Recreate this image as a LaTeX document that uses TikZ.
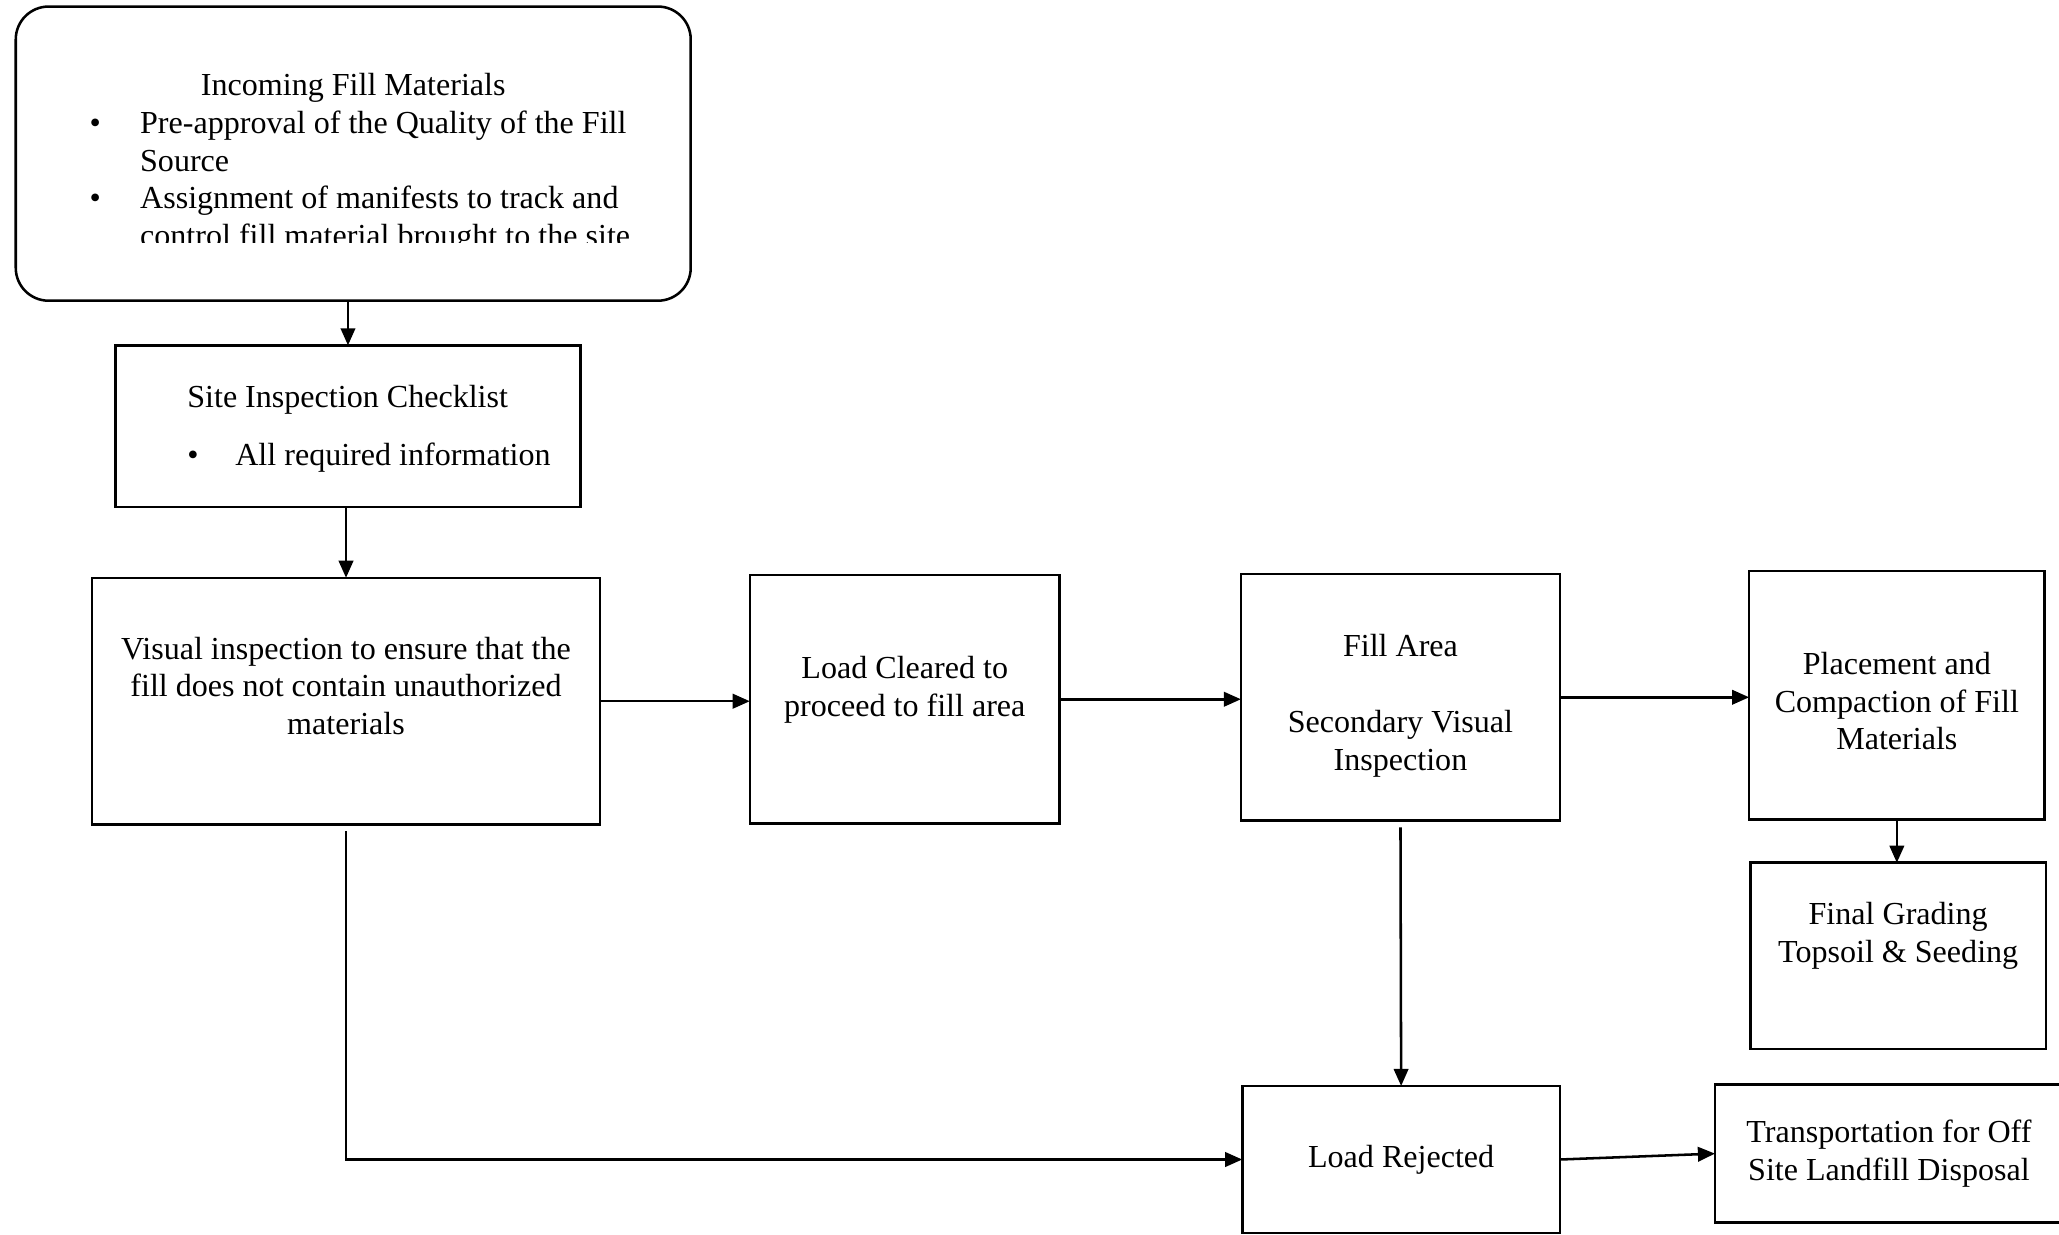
\documentclass[tikz,border=0pt]{standalone}
\usepackage{fontspec}
\setmainfont{Liberation Serif}
\usetikzlibrary{calc,arrows.meta}
\newcommand{\picwidth}{31.36}
\newcommand{\picheight}{-18.8}
\newcommand{\cutlevel}{-3.69}
\newcommand{\linew}{1.1pt}
% moves the ink of a label up or down, keeping the box centred
\newcommand{\nudge}[2]{\raisebox{#1}[\height][\depth]{\begin{tabular}{@{}c@{}}#2\end{tabular}}}

\begin{document}
\begin{tikzpicture}[font=\fontsize{13.9}{16.4}\selectfont]
\tikzstyle{stage}=[draw,line width=\linew,align=center,inner sep=0pt,outer sep=0pt]
\tikzstyle{flow}=[line width=\linew,-{Triangle[length=0.26cm,width=0.22cm]}]

\useasboundingbox (0,0) rectangle (\picwidth,\picheight);
\clip (0,0) rectangle (\picwidth,\picheight);

% top box, its last line is cut off in the scan
\begin{scope}
\clip (0,0) rectangle (\picwidth,\cutlevel);
\node (incoming) [minimum width=10.28cm,minimum height=4.48cm,inner sep=0pt,outer sep=0pt] at (5.38,-2.34) {\rule{0.2cm}{0pt}\raisebox{-0.15cm}[\height][\depth]{\begin{tabular}{@{}l@{\hspace{0.6cm}}l@{}}
\multicolumn{2}{c}{Incoming Fill Materials\rule{0.2cm}{0pt}}\\
\textbullet & Pre-approval of the Quality of the Fill\\
 & Source\\
\textbullet & Assignment of manifests to track and\\
 & control fill material brought to the site
\end{tabular}}};
\end{scope}
\draw[line width=\linew,rounded corners=0.5cm] (incoming.north west) rectangle (incoming.south east);

\node (checklist) [stage,minimum width=7.08cm,minimum height=2.46cm] at (5.30,-6.49) {\rule{0.64cm}{0pt}\raisebox{-0.04cm}[\height][\depth]{\begin{tabular}{@{}l@{\hspace{0.56cm}}l@{}}
\multicolumn{2}{@{}l}{Site Inspection Checklist}\\[0.3cm]
\textbullet & All required information
\end{tabular}}};

\node (visual) [stage,minimum width=7.74cm,minimum height=3.76cm] at (5.27,-10.68) {\nudge{0.18cm}{Visual inspection to ensure that the\\fill does not contain unauthorized\\materials}};
\node (cleared) [stage,minimum width=4.72cm,minimum height=3.78cm] at (13.78,-10.65) {\nudge{0.14cm}{Load Cleared to\\proceed to fill area}};
\node (fillarea) [stage,minimum width=4.86cm,minimum height=3.76cm] at (21.33,-10.62) {\nudge{-0.13cm}{Fill Area\\[0.578cm]Secondary Visual\\Inspection}};
\node (placement) [stage,minimum width=4.50cm,minimum height=3.78cm] at (28.89,-10.59) {\nudge{-0.14cm}{Placement and\\Compaction of Fill\\Materials}};
\node (grading) [stage,minimum width=4.50cm,minimum height=2.84cm] at (28.91,-14.56) {\nudge{0.3cm}{Final Grading\\Topsoil \& Seeding}};
\node (rejected) [stage,minimum width=4.84cm,minimum height=2.24cm] at (21.34,-17.66) {Load Rejected};
\node (transport) [stage,minimum width=5.30cm,minimum height=2.10cm] at (28.77,-17.57) {Transportation for Off\\Site Landfill Disposal};

\draw[flow] (incoming.south -| checklist.north) -- (checklist.north);
\draw[flow] (checklist.south -| visual.north) -- (visual.north);
\draw[flow] (visual.east) -- (visual.east -| cleared.west);
\draw[flow] (cleared.east) -- (cleared.east -| fillarea.west);
\draw[flow] (fillarea.east) -- (fillarea.east -| placement.west);
\draw[flow] (placement.south) -- (placement.south |- grading.north);
\draw[flow] ([yshift=-0.1cm]fillarea.south) -- (rejected.north);
\draw[flow] ([yshift=-0.1cm]visual.south) |- (rejected.west);
\draw[flow] (rejected.east) -- (transport.west);

\end{tikzpicture}
\end{document}
